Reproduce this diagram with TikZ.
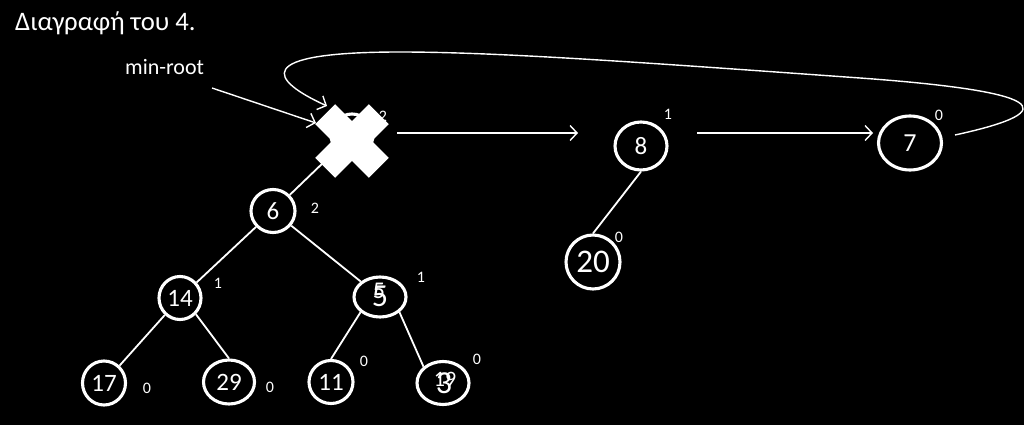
\documentclass[tikz,border=0pt]{standalone}
\usepackage{fontspec}
\setmainfont{Carlito}
\usetikzlibrary{arrows.meta,shapes.geometric}
\begin{document}
\begin{tikzpicture}[x=1pt,y=-1pt,
  hn/.style={ellipse, draw=white, line width=3.1pt, inner sep=0pt, text=white,
    font=\fontsize{25}{25}\selectfont},
  numtxt/.style={text=white, inner sep=0pt},
  deg/.style={text=white, font=\fontsize{16}{16}\selectfont, inner sep=0pt},
  edge/.style={draw=white, line width=1.8pt},
  arr/.style={draw=white, line width=1.4pt,
    -{Straight Barb[length=7pt,width=15pt,line width=1.4pt]}},
]
\fill[black] (0,0) rectangle (1024,425);
\useasboundingbox (0,0) rectangle (1024,425);

% title texts
\node[numtxt, anchor=base west, font=\fontsize{26.7}{26.7}\selectfont] (title) at (15,31) {Διαγραφή του 4.};
\node[numtxt, anchor=base west, font=\fontsize{22}{22}\selectfont] (minroot) at (125,75) {min-root};

% deleted node 4 (hidden under the cross)
\node[hn, minimum width=42pt, minimum height=42pt] (n4) at (352,135) {};
\node[deg] (d4) at (383,116) {2};

% tree nodes
\node[hn, minimum width=44pt, minimum height=43pt] (n6) at (273,211) {6};
\node[hn, minimum width=42pt, minimum height=43pt] (n14) at (180,298) {14};
\node[hn, minimum width=52pt, minimum height=40pt] (n5) at (380,297) {};
\node[numtxt, font=\fontsize{24}{24}\selectfont] (n5a) at (379,291) {5};
\node[numtxt, font=\fontsize{32}{32}\selectfont] (n5b) at (380,296) {5};
\node[hn, minimum width=43pt, minimum height=44pt] (n17) at (104,383) {17};
\node[hn, minimum width=51pt, minimum height=44pt] (n29) at (229,382) {29};
\node[hn, minimum width=44pt, minimum height=43pt] (n11) at (331,382) {11};
\node[hn, minimum width=52pt, minimum height=43pt] (n19) at (443,383) {};
\node[numtxt, font=\fontsize{22}{22}\selectfont] (n19a) at (445,379) {19};
\node[numtxt, font=\fontsize{32}{32}\selectfont] (n19b) at (444,383) {3};
\node[hn, minimum width=52pt, minimum height=48pt] (n8) at (641,146) {8};
\node[hn, minimum width=54pt, minimum height=54pt, font=\fontsize{33}{33}\selectfont] (n20) at (593,262) {20};
\node[hn, minimum width=63pt, minimum height=54pt, font=\fontsize{26}{26}\selectfont] (n7) at (910,143) {7};

% degree labels
\node[deg] (d6) at (315,208) {2};
\node[deg] (d14) at (218,283) {1};
\node[deg] (d5) at (421,277) {1};
\node[deg] (d17) at (147,388) {0};
\node[deg] (d29) at (270,387) {0};
\node[deg] (d11) at (364,361) {0};
\node[deg] (d19) at (477,359) {0};
\node[deg] (d8) at (668,114) {1};
\node[deg] (d7) at (939,115) {0};
\node[deg] (d20) at (619,237) {0};

% tree edges
\draw[edge] (n4) -- (n6);
\draw[edge] (n6) -- (n14);
\draw[edge] (n6) -- (n5);
\draw[edge] (n14) -- (n17);
\draw[edge] (n14.south east) -- (n29.north);
\draw[edge] (n5.south west) -- (n11.north);
\draw[edge] (n5.south east) -- (n19.north west);
\draw[edge] (n8.south) -- (n20.north);

% the cross over node 4
\fill[white, shift={(352,141)}, rotate=45]
  (-14,38) -- (14,38) -- (14,14) -- (38,14) -- (38,-14) -- (14,-14) --
  (14,-38) -- (-14,-38) -- (-14,-14) -- (-38,-14) -- (-38,14) -- (-14,14) -- cycle;

% arrows
\coordinate (mrs) at (212,88);
\coordinate (mre) at (316,123);
\draw[arr] (mrs) -- (mre);

\coordinate (a1s) at (397,133);
\coordinate (a1e) at (578,133);
\draw[arr] (a1s) -- (a1e);
\coordinate (a2s) at (697,133);
\coordinate (a2e) at (873,133);
\draw[arr] (a2s) -- (a2e);

\coordinate (ls) at (955,135);
\coordinate (le) at (327,106);
\draw[arr] (ls) .. controls (1070,110) and (1040,91) .. (860,78)
  .. controls (650,63) and (500,52) .. (400,52)
  .. controls (250,52) and (270,80) .. (le);
\end{tikzpicture}
\end{document}
